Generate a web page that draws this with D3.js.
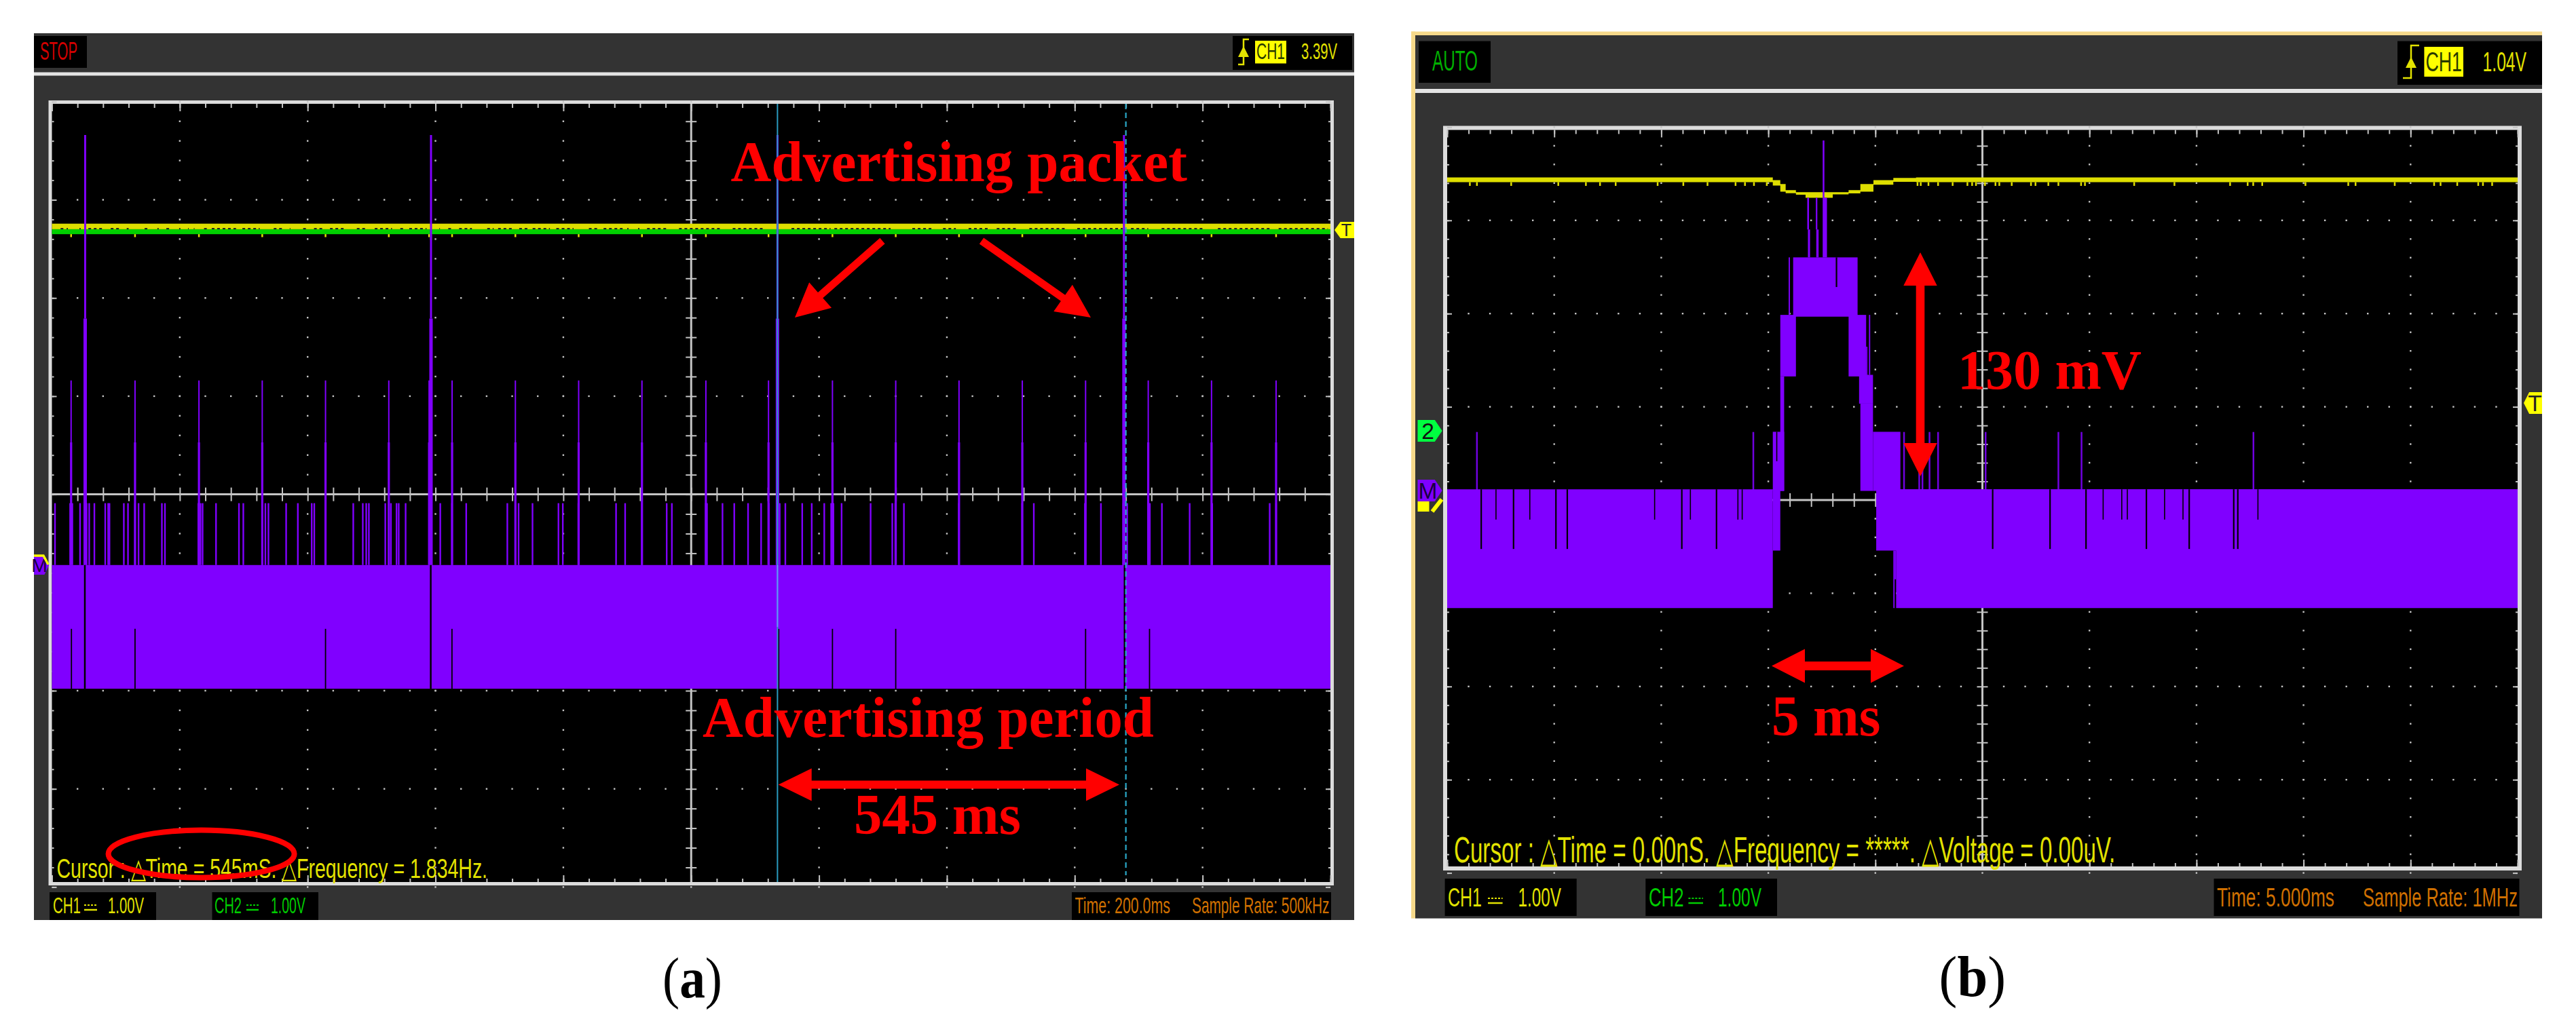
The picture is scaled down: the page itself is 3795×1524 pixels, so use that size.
<!DOCTYPE html>
<html>
<head>
  <meta charset="UTF-8">
  <title>Advertising packet scope captures</title>
  <script src="https://d3js.org/d3.v7.min.js"></script>
  <style>
    html, body { margin: 0; padding: 0; background: #fff; }
    svg { display: block; }
    .scope { font-family: "Liberation Sans Narrow", "Liberation Sans", sans-serif; }
    .note { font-family: "Liberation Serif", serif; font-weight: bold; fill: #ff0000; }
    .caption { font-family: "Liberation Serif", serif; fill: #000; }
  </style>
</head>
<body>
  <svg id="chart" width="3795" height="1524"></svg>

  <script>
    // panel (a): time in ms, level in divisions (1.00 V/div)
    var aTallSpikes = [52, 593, 1135, 1677];
    var aMidSpikes = [30, 130, 230, 329, 428, 527, 590, 626, 725, 824, 923, 1023, 1121, 1221, 1320, 1419, 1518, 1617, 1715, 1814, 1915];
    var aLowSpikes = [4.8, 28.5, 31.9, 44, 50.9, 54.2, 58.3, 66.4, 83.4, 88, 90, 112.5, 119, 130, 135.5, 144.3, 172, 176.8,
      229, 232.4, 235.7, 256.7, 292.6, 299.4, 329, 333.9, 338.7, 366.4, 384.7, 406.4, 410.4, 428, 471.4, 486.3, 491.7, 495.8,
      521.5, 527, 530.3, 539.1, 542.5, 553.3, 592.6, 607.5, 625.8, 648.1, 712.4, 725.3, 730, 751.8, 792.4, 799.2, 823.5,
      882.5, 896.7, 923, 961.7, 969.8, 1022.7, 1024.7, 1049, 1067.4, 1089, 1109.4, 1121.6, 1135, 1138.5, 1147.3, 1173.7,
      1188.6, 1208.2, 1219, 1222.5, 1235.3, 1280.7, 1314.6, 1319.3, 1332.8, 1418.8, 1517.7, 1536, 1616, 1641, 1676, 1682,
      1715.5, 1717.5, 1736.4, 1779.8, 1815, 1905, 1915];
    var aNotchesShort = [30.5, 130, 428, 625.8, 1137, 1221, 1320, 1617, 1717];
    var aNotchesFull = [51.5, 592.6, 1678];
    var aBandGaps = [[13.6, 20.4], [23, 25], [43, 45], [57, 82], [92, 106], [117, 120], [145, 153], [165, 167], [179, 187], [199, 201],
      [213, 214], [222, 223], [238, 244], [250, 288], [298, 325], [347, 362], [372, 373], [393, 398], [410, 423], [435, 460],
      [477, 494], [505, 532], [545, 552], [559, 586], [606, 607], [620, 626], [637, 657], [681, 691], [698, 721], [731, 745],
      [752, 779], [789, 816], [840, 857], [863, 894], [900, 902], [917, 919], [931, 965], [981, 1045], [1065, 1113], [1157, 1218],
      [1224, 1312], [1346, 1380], [1394, 1414], [1434, 1468], [1478, 1512], [1529, 1587], [1604, 1675], [1688, 1715], [1736, 1803],
      [1824, 1908], [1919, 1996]];
    var aBlock = [[0, 2000, -0.72, -1.98]];
    var aCursors = [1135, 1680];

    // panel (b): time in ms, level in divisions
    var bTraceTime = [0, 15.21, 15.56, 15.81, 16.29, 16.74, 18.01, 18.75, 19.3, 19.91, 20.84, 21.9, 50];
    var bTraceHigh = [3.46, 3.432, 3.39, 3.325, 3.302, 3.302, 3.302, 3.325, 3.39, 3.432, 3.455, 3.46, 3.46];
    var bTraceLow = [3.41, 3.373, 3.308, 3.292, 3.276, 3.243, 3.279, 3.289, 3.308, 3.383, 3.413, 3.41, 3.41];
    var bTraceTicks = [1.06, 1.39, 2.99, 5.19, 6.48, 7.14, 7.87, 9.83, 11.03, 12.16, 13.47, 13.91, 14.33, 14.93, 21.97, 22.12, 22.48,
      22.93, 23.61, 24.3, 24.52, 24.7, 25.12, 25.61, 25.79, 26.37, 27.27, 27.48, 28.08, 28.55, 29.61, 29.79, 32.09, 33.97, 36.57,
      37.39, 37.65, 38.07, 40.09, 42.09, 42.43, 44.26, 46.1, 46.4, 47.18, 48.16, 48.38, 48.81];
    var bBlocks = [[0, 15.21, 0.115, -1.159], [15.21, 15.56, 0.115, -0.542], [15.21, 15.74, 0.732, 0.098], [15.56, 15.74, 1.326, 0.098],
      [15.56, 16.29, 1.986, 1.326], [16.16, 19.17, 2.603, 1.967], [18.75, 19.57, 1.986, 1.326], [19.57, 19.63, 1.645, 1.326],
      [19.24, 19.89, 1.343, 1.034], [19.3, 19.89, 1.034, 0.098], [19.89, 21.17, 0.732, 0.098], [20.04, 50, 0.115, -0.542],
      [20.97, 50, 0.115, -1.159], [20.84, 20.9, -0.542, -1.159], [20.9, 20.97, -0.542, -0.85]];
    var bPacketSpikes = [[16.82, 16.9, 3.243, 2.902], [16.85, 16.95, 2.902, 2.603], [17.22, 17.29, 3.243, 2.902], [17.24, 17.35, 2.902, 2.603],
      [17.54, 17.74, 3.243, 2.603], [17.54, 17.62, 3.857, 3.243], [15.95, 16.01, 2.603, 1.986], [19.7, 19.76, 1.986, 1.343]];
    var bLowSpikes = [1.39, 14.3, 21.34, 22.05, 22.2, 22.53, 22.93, 25.15, 28.55, 29.63, 37.66];
    var bNotchesLong = [1.59, 3.1, 5.08, 5.61, 10.96, 12.58, 25.48, 28.16, 29.84, 32.66, 34.66, 36.74, 36.93];
    var bNotchesShort = [2.28, 3.86, 9.69, 11.36, 13.58, 13.78, 30.64, 31.51, 31.77, 33.51, 34.37, 37.87];
    var bBlackCuts = [[15.37, 15.42, 0.732, 0.417], [18.15, 18.22, 2.603, 2.285]];

    var purple = "#8000ff", yellow = "#e2e200", green = "#00cc00", orange = "#d07000", red = "#ff0000", gridColor = "#c4c4c4";

    var svg = d3.select("#chart");

    // squeeze a text element to the width it has on the scope screen
    function fit(t, x0, x1, base) {
      var w = t.node().getComputedTextLength();
      t.attr("transform", "translate(" + x0 + "," + base + ") scale(" + ((x1 - x0) / w) + ",1)");
      return t;
    }

    function label(g, txt, x0, x1, base, size, color, cls) {
      var t = g.append("text").attr("class", cls || "scope")
        .attr("font-size", size).attr("fill", color)
        .text(txt);
      return fit(t, x0, x1, base);
    }

    function caption(g, letter, x0, x1, base) {
      var t = g.append("text").attr("class", "caption").attr("font-size", 84);
      t.append("tspan").text("(");
      t.append("tspan").attr("font-weight", "bold").text(letter);
      t.append("tspan").text(")");
      return fit(t, x0, x1, base);
    }

    function drawGrid(g, x, y, xDomain, screen) {
      var w = xDomain / 10;
      var majorX = d3.range(0, 11).map(function(i) { return i * w; });
      var minorX = d3.range(0, 51).map(function(i) { return i * w / 5; });
      var majorY = d3.range(-4, 5);
      var minorY = d3.range(-20, 21).map(function(i) { return i / 5; });
      var dots = [];
      majorX.slice(1, 10).forEach(function(mx) { minorY.forEach(function(my) { dots.push([mx, my]); }); });
      majorY.slice(1, 8).forEach(function(my) { minorX.slice(1, 50).forEach(function(mx) { dots.push([mx, my]); }); });

      g.append("g").selectAll("rect").data(dots).enter().append("rect")
        .attr("x", function(d) { return x(d[0]) - 1.2; })
        .attr("y", function(d) { return y(d[1]) - 1.2; })
        .attr("width", 2.4).attr("height", 2.4)
        .attr("fill", gridColor);

      // ticks along the four screen edges and the centre cross, all from d3 axes
      var blank = function() { return ""; };
      function styleAxis(sel, width) {
        sel.select(".domain").remove();
        sel.selectAll("text").remove();
        sel.selectAll("line").attr("stroke", gridColor).attr("stroke-width", width);
      }
      var st = screen.top, sb = screen.bottom, sl = screen.left, sr = screen.right;
      g.append("g").attr("transform", "translate(0," + st + ")").call(d3.axisBottom(x).tickValues(minorX).tickSize(6).tickFormat(blank)).call(styleAxis, 2);
      g.append("g").attr("transform", "translate(0," + st + ")").call(d3.axisBottom(x).tickValues(majorX).tickSize(11).tickFormat(blank)).call(styleAxis, 2);
      g.append("g").attr("transform", "translate(0," + sb + ")").call(d3.axisTop(x).tickValues(minorX).tickSize(5).tickFormat(blank)).call(styleAxis, 2);
      g.append("g").attr("transform", "translate(0," + sb + ")").call(d3.axisTop(x).tickValues(majorX).tickSize(10).tickFormat(blank)).call(styleAxis, 2);
      g.append("g").attr("transform", "translate(" + sl + ",0)").call(d3.axisRight(y).tickValues(minorY).tickSize(3).tickFormat(blank)).call(styleAxis, 2);
      g.append("g").attr("transform", "translate(" + sl + ",0)").call(d3.axisRight(y).tickValues(majorY).tickSize(7).tickFormat(blank)).call(styleAxis, 2);
      g.append("g").attr("transform", "translate(" + sr + ",0)").call(d3.axisLeft(y).tickValues(minorY).tickSize(3).tickFormat(blank)).call(styleAxis, 2);
      g.append("g").attr("transform", "translate(" + sr + ",0)").call(d3.axisLeft(y).tickValues(majorY).tickSize(7).tickFormat(blank)).call(styleAxis, 2);

      var midY = y(0), midX = x(xDomain / 2);
      g.append("line").attr("x1", sl).attr("x2", sr).attr("y1", midY).attr("y2", midY).attr("stroke", gridColor).attr("stroke-width", 3);
      g.append("line").attr("x1", midX).attr("x2", midX).attr("y1", st).attr("y2", sb).attr("stroke", gridColor).attr("stroke-width", 3);
      g.append("g").attr("transform", "translate(0," + (midY - 10) + ")")
        .call(d3.axisBottom(x).tickValues(minorX.slice(1, 50)).tickSize(20).tickFormat(blank)).call(styleAxis, 2);
      g.append("g").attr("transform", "translate(" + (midX - 8) + ",0)")
        .call(d3.axisRight(y).tickValues(minorY.slice(1, 40)).tickSize(16).tickFormat(blank)).call(styleAxis, 2);
    }

    function vLines(g, values, x, yHigh, yLow, color, width) {
      g.append("g").selectAll("line").data(values).enter().append("line")
        .attr("x1", function(d) { return x(d); })
        .attr("x2", function(d) { return x(d); })
        .attr("y1", yHigh).attr("y2", yLow)
        .attr("stroke", color).attr("stroke-width", width);
    }

    function blocks(g, rows, x, y, color) {
      g.append("g").selectAll("rect").data(rows).enter().append("rect")
        .attr("x", function(d) { return x(d[0]); })
        .attr("width", function(d) { return Math.max(1, x(d[1]) - x(d[0])); })
        .attr("y", function(d) { return y(d[2]); })
        .attr("height", function(d) { return y(d[3]) - y(d[2]); })
        .attr("fill", color);
    }

    // solid arrow polygon: tip, shaft start and head size in pixels
    function arrow(g, x0, y0, x1, y1, headLen, headHalf, shaftHalf, both) {
      var a = Math.atan2(y1 - y0, x1 - x0);
      var len = Math.hypot(x1 - x0, y1 - y0);
      var pts = both
        ? [[0, 0], [headLen, headHalf], [headLen, shaftHalf], [len - headLen, shaftHalf], [len - headLen, headHalf], [len, 0],
           [len - headLen, -headHalf], [len - headLen, -shaftHalf], [headLen, -shaftHalf], [headLen, -headHalf]]
        : [[0, shaftHalf], [0, -shaftHalf], [len - headLen, -shaftHalf], [len - headLen, -headHalf], [len, 0], [len - headLen, headHalf], [len - headLen, shaftHalf]];
      g.append("polygon")
        .attr("points", pts.map(function(p) {
          return [x0 + p[0] * Math.cos(a) - p[1] * Math.sin(a), y0 + p[0] * Math.sin(a) + p[1] * Math.cos(a)].join(",");
        }).join(" "))
        .attr("fill", red);
    }

    function drawFrame(g, f) {
      g.append("rect").attr("x", f.x0).attr("y", f.y0).attr("width", f.x1 - f.x0).attr("height", f.y1 - f.y0).attr("fill", "#333333");
      g.append("rect").attr("x", f.x0).attr("y", f.headY - f.headW / 2).attr("width", f.x1 - f.x0).attr("height", f.headW).attr("fill", "#e4e4e4");
      // screen with its light border
      g.append("rect").attr("x", f.sx0 - f.bw).attr("y", f.sy0 - f.bw).attr("width", f.sx1 - f.sx0 + 2 * f.bw).attr("height", f.sy1 - f.sy0 + 2 * f.bw).attr("fill", "#dcdcdc");
      g.append("rect").attr("x", f.sx0).attr("y", f.sy0).attr("width", f.sx1 - f.sx0).attr("height", f.sy1 - f.sy0).attr("fill", "#000");
      // status box
      g.append("rect").attr("x", f.statusBox[0]).attr("y", f.statusBox[1]).attr("width", f.statusBox[2] - f.statusBox[0]).attr("height", f.statusBox[3] - f.statusBox[1]).attr("fill", "#000");
      label(g, f.status, f.statusText[0], f.statusText[1], f.statusText[2], f.statusText[3], f.statusColor);
      // trigger box, ch is x0, x1, y0, y1
      var t = f.trig;
      g.append("rect").attr("x", t.box[0]).attr("y", t.box[1]).attr("width", t.box[2] - t.box[0]).attr("height", t.box[3] - t.box[1]).attr("fill", "#000");
      g.append("path").attr("d", "M" + t.sym[0] + "," + t.sym[3] + "H" + t.sym[1] + "V" + t.sym[2] + "H" + (t.sym[1] + (t.sym[1] - t.sym[0])))
        .attr("fill", "none").attr("stroke", yellow).attr("stroke-width", 2.5);
      g.append("path").attr("d", "M" + (t.sym[1] - 8) + "," + (t.sym[4] + 8) + "L" + t.sym[1] + "," + (t.sym[4] - 8) + "L" + (t.sym[1] + 8) + "," + (t.sym[4] + 8) + "Z").attr("fill", yellow);
      g.append("rect").attr("x", t.ch[0]).attr("y", t.ch[2]).attr("width", t.ch[1] - t.ch[0]).attr("height", t.ch[3] - t.ch[2]).attr("fill", "#ffff00");
      label(g, "CH1", t.ch[0] + 2, t.ch[1] - 2, t.base, t.size, "#2a3a00");
      label(g, t.level, t.levelX[0], t.levelX[1], t.base, t.size, yellow);
      // channel and time boxes
      f.bottoms.forEach(function(b) {
        g.append("rect").attr("x", b.box[0]).attr("y", f.bottomY[0]).attr("width", b.box[1] - b.box[0]).attr("height", f.bottomY[1] - f.bottomY[0]).attr("fill", "#000");
        b.items.forEach(function(it) { label(g, it[0], it[1], it[2], f.bottomBase, f.bottomSize, b.color); });
        if (b.coupling) {
          g.append("line").attr("x1", b.coupling[0]).attr("x2", b.coupling[1]).attr("y1", f.bottomBase - 12).attr("y2", f.bottomBase - 12)
            .attr("stroke", b.color).attr("stroke-width", 2).attr("stroke-dasharray", "3 2");
          g.append("line").attr("x1", b.coupling[0]).attr("x2", b.coupling[1]).attr("y1", f.bottomBase - 5).attr("y2", f.bottomBase - 5)
            .attr("stroke", b.color).attr("stroke-width", 2.5);
        }
      });
    }

    function pentagon(g, x0, x1, y0, y1, color, glyph, glyphColor, pointLeft) {
      var ym = (y0 + y1) / 2, w = (x1 - x0) * 0.3;
      var pts = pointLeft
        ? [[x0, ym], [x0 + w, y0], [x1, y0], [x1, y1], [x0 + w, y1]]
        : [[x0, y0], [x1 - w, y0], [x1, ym], [x1 - w, y1], [x0, y1]];
      g.append("polygon").attr("points", pts.map(String).join(" ")).attr("fill", color);
      g.append("text").attr("class", "scope").attr("x", (x0 + x1) / 2 + (pointLeft ? 3 : -3)).attr("y", y1 - (y1 - y0) * 0.14)
        .attr("font-size", (y1 - y0) * 1.05).attr("text-anchor", "middle").attr("fill", glyphColor).text(glyph);
    }

    // ---------- panel (a)
    var ga = svg.append("g");
    drawFrame(ga, {
      x0: 50, x1: 1995, y0: 49, y1: 1356, headY: 109, headW: 5,
      sx0: 76.5, sx1: 1960, sy0: 153, sy1: 1300, bw: 5,
      status: "STOP", statusBox: [50, 53, 128, 100], statusText: [59, 114, 88, 37], statusColor: "#d40000",
      trig: { box: [1816, 53, 1992, 103], sym: [1824, 1832, 58, 95, 76], ch: [1849, 1895, 60, 93.5], base: 87, size: 33, level: "3.39V", levelX: [1917, 1970] },
      bottomY: [1315, 1356], bottomBase: 1346, bottomSize: 33,
      bottoms: [
        { box: [73, 230], color: yellow, coupling: [124, 143], items: [["CH1", 78, 119], ["1.00V", 159, 212]] },
        { box: [312.5, 469], color: green, coupling: [363, 381], items: [["CH2", 316, 356], ["1.00V", 399, 450]] },
        { box: [1579, 1961], color: orange, items: [["Time: 200.0ms", 1583.5, 1724], ["Sample Rate: 500kHz", 1756, 1958.5]] }
      ]
    });

    var xa = d3.scaleLinear().domain([0, 2000]).range([76.5, 1960]);
    var ya = d3.scaleLinear().domain([-4, 4]).range([1307.4, 149.8]);
    var screenA = ga.append("g");
    drawGrid(screenA, xa, ya, 2000, { top: 153, bottom: 1300, left: 76.5, right: 1960 });

    // CH1 and CH2 traces lying on top of each other
    blocks(screenA, [[0, 2000, 2.757, 2.70]], xa, ya, "#dede00");
    blocks(screenA, [[0, 2000, 2.70, 2.65]], xa, ya, "#00d000");
    screenA.append("g").selectAll("line").data(aBandGaps).enter().append("line")
      .attr("x1", function(d) { return xa(d[0]); })
      .attr("x2", function(d) { return Math.min(xa(d[1]), 1960); })
      .attr("y1", ya(2.706)).attr("y2", ya(2.706))
      .attr("stroke", "#222").attr("stroke-width", 2).attr("stroke-dasharray", "4 4");
    vLines(screenA, aMidSpikes, xa, ya(2.65), ya(2.62), yellow, 2.5);
    vLines(screenA, aTallSpikes, xa, ya(2.65), ya(2.59), yellow, 2.5);

    vLines(screenA, aLowSpikes, xa, ya(-0.09), ya(-0.72), purple, 2.4);
    vLines(screenA, aMidSpikes, xa, ya(1.16), ya(0.53), purple, 2);
    vLines(screenA, aMidSpikes, xa, ya(0.53), ya(-0.72), purple, 3.2);
    vLines(screenA, aTallSpikes, xa, ya(3.66), ya(1.79), purple, 3);
    vLines(screenA, aTallSpikes, xa, ya(1.79), ya(-0.72), purple, 5);
    blocks(screenA, aBlock, xa, ya, purple);
    vLines(screenA, aNotchesShort, xa, ya(-1.37), ya(-1.98), "#000", 1.8);
    vLines(screenA, aNotchesFull, xa, ya(-0.72), ya(-1.98), "#000", 2.5);

    // measurement cursors
    screenA.append("line").attr("x1", xa(aCursors[0])).attr("x2", xa(aCursors[0])).attr("y1", 153).attr("y2", 1300)
      .attr("stroke", "#2a9cc0").attr("stroke-width", 2);
    screenA.append("line").attr("x1", xa(aCursors[0])).attr("x2", xa(aCursors[0])).attr("y1", ya(-0.72)).attr("y2", ya(-1.35))
      .attr("stroke", "#6a8cff").attr("stroke-width", 2);
    screenA.append("line").attr("x1", xa(aCursors[1])).attr("x2", xa(aCursors[1])).attr("y1", 153).attr("y2", 1290)
      .attr("stroke", "#2aa8c8").attr("stroke-width", 2.2).attr("stroke-dasharray", "8 5");

    pentagon(ga, 50, 72, 820, 847, purple, "M", "#1a0040");
    ga.append("path").attr("d", "M50,819H64L71,832").attr("fill", "none").attr("stroke", "#ffff00").attr("stroke-width", 3.5);
    pentagon(ga, 1966, 1995, 327, 351, "#ffff00", "T", "#222", true);

    label(ga, "Cursor : △Time = 545mS. △Frequency = 1.834Hz.", 83.5, 719, 1294, 41, yellow);
    label(ga, "Advertising packet", 1076.5, 1749, 267, 85, red, "note");
    label(ga, "Advertising period", 1035, 1700, 1086, 85, red, "note");
    label(ga, "545 ms", 1258, 1504, 1229, 85, red, "note");
    arrow(ga, 1300, 355, 1171, 468, 50, 25, 5.5);
    arrow(ga, 1446, 355, 1607, 468, 50, 24, 5.5);
    arrow(ga, 1146.7, 1156.6, 1649, 1156.6, 49, 24, 6, true);
    ga.append("ellipse").attr("cx", 296.6).attr("cy", 1258.5).attr("rx", 137).attr("ry", 35)
      .attr("fill", "none").attr("stroke", red).attr("stroke-width", 8);

    caption(ga, "a", 976, 1064, 1470);

    // ---------- panel (b)
    var gb = svg.append("g");
    drawFrame(gb, {
      x0: 2085, x1: 3745, y0: 52, y1: 1353.6, headY: 134, headW: 6,
      sx0: 2132, sx1: 3709, sy0: 191.5, sy1: 1277, bw: 6,
      status: "AUTO", statusBox: [2090, 60.6, 2196, 122], statusText: [2110, 2177, 104, 42], statusColor: "#00b000",
      trig: { box: [3532, 60.6, 3745, 125], sym: [3540, 3552, 67, 115, 92], ch: [3571.4, 3629, 69, 113], base: 105, size: 40, level: "1.04V", levelX: [3657.6, 3722] },
      bottomY: [1295, 1350], bottomBase: 1336, bottomSize: 38,
      bottoms: [
        { box: [2128.6, 2322.7], color: yellow, coupling: [2192, 2213.6], items: [["CH1", 2133, 2183], ["1.00V", 2236.6, 2300]] },
        { box: [2424.3, 2618], color: green, coupling: [2487.4, 2509], items: [["CH2", 2429, 2480.5], ["1.00V", 2531, 2595]] },
        { box: [3261.5, 3711.5], color: orange, items: [["Time: 5.000ms", 3266, 3439], ["Sample Rate: 1MHz", 3481, 3709]] }
      ]
    });
    // pale edge on the top and left of the photographed window
    gb.append("rect").attr("x", 2079).attr("y", 46.5).attr("width", 3745 - 2079).attr("height", 5.5).attr("fill", "#f6d98a");
    gb.append("rect").attr("x", 2079).attr("y", 46.5).attr("width", 6).attr("height", 1353.6 - 46.5).attr("fill", "#f6d98a");

    var xb = d3.scaleLinear().domain([0, 50]).range([2132, 3709]);
    var yb = d3.scaleLinear().domain([-4, 4]).range([1286.6, 187.4]);
    var screenB = gb.append("g");
    drawGrid(screenB, xb, yb, 50, { top: 191.5, bottom: 1277, left: 2132, right: 3709 });

    var traceRows = bTraceTime.map(function(t, i) { return { t: t, hi: bTraceHigh[i], lo: bTraceLow[i] }; });
    var traceArea = d3.area().curve(d3.curveStepAfter)
      .x(function(d) { return xb(d.t); })
      .y0(function(d) { return yb(d.lo); })
      .y1(function(d) { return yb(d.hi); });
    screenB.append("path").datum(traceRows).attr("d", traceArea).attr("fill", "#dede00");
    vLines(screenB, bTraceTicks, xb, yb(3.41), yb(3.37), "#dede00", 2.5);

    vLines(screenB, bLowSpikes, xb, yb(0.73), yb(0.1), "#7000e0", 2.5);
    blocks(screenB, bBlocks, xb, yb, purple);
    blocks(screenB, bPacketSpikes, xb, yb, purple);
    blocks(screenB, bBlackCuts, xb, yb, "#000");
    vLines(screenB, bNotchesLong, xb, yb(0.115), yb(-0.525), "#000", 2.2);
    vLines(screenB, bNotchesShort, xb, yb(0.115), yb(-0.21), "#000", 1.6);

    pentagon(gb, 2088.5, 2124.6, 619, 651, "#00ff40", "2", "#111");
    pentagon(gb, 2088.5, 2124.6, 707, 739, purple, "M", "#1a0040");
    gb.append("rect").attr("x", 2088.5).attr("y", 739).attr("width", 17).attr("height", 15).attr("fill", "#ffff00");
    gb.append("path").attr("d", "M2110,754L2124,736").attr("stroke", "#ffff00").attr("stroke-width", 6);
    pentagon(gb, 3718, 3745, 578, 610, "#ffff00", "T", "#222", true);

    label(gb, "Cursor : △Time = 0.00nS. △Frequency = *****. △Voltage = 0.00uV.", 2142, 3117, 1271, 53, yellow);
    label(gb, "130 mV", 2884, 3155, 573, 83, red, "note");
    label(gb, "5 ms", 2610, 2770.5, 1084, 85, red, "note");
    arrow(gb, 2829, 372, 2829, 702, 49, 24.7, 6.3, true);
    arrow(gb, 2610, 981.5, 2805, 981.5, 49, 25, 6.6, true);

    caption(gb, "b", 2856.6, 2955, 1468);
  </script>
</body>
</html>
